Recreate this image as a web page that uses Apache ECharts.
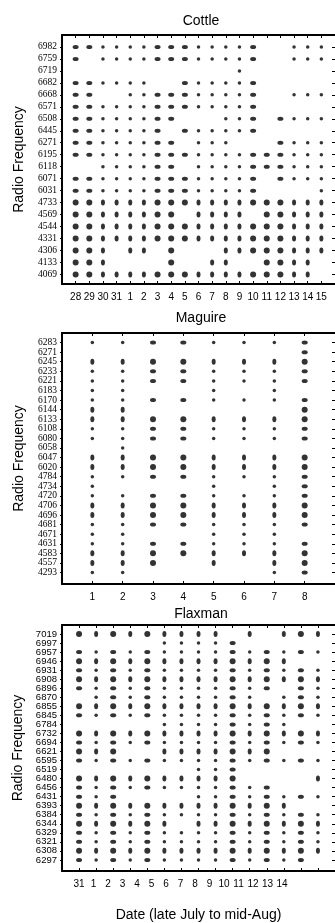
<!DOCTYPE html>
<html>
<head>
<meta charset="utf-8">
<script src="https://cdn.jsdelivr.net/npm/echarts@6/dist/echarts.min.js"></script>
<style>
  html, body { margin: 0; background: #fff; }
  #chart { width: 335px; height: 923px; }
</style>
</head>
<body>
<div id="chart"></div>
<script>
// mark codes: 0 = none, 1 = small dot, 2 = wide, 3 = tall, 4 = big
const cottleFreqs = ["6982","6759","6719","6682","6668","6571","6508","6445","6271","6195","6118",
  "6071","6031","4733","4569","4544","4331","4306","4133","4069"];
const cottleDates = ["28","29","30","31","1","2","3","4","5","6","7","8","9","10","11","12","13","14","15"];
const cottleMarks = [
  [2,2,1,1,1,1,2,2,2,1,1,1,1,2,0,0,1,1,1],
  [2,0,1,1,1,1,2,2,2,1,1,1,1,2,0,0,1,1,1],
  [0,0,0,0,0,0,0,0,0,0,0,0,1,0,0,0,0,0,0],
  [2,2,1,1,1,1,0,0,2,1,1,1,1,2,0,0,0,0,0],
  [2,2,0,0,1,1,2,2,2,1,1,1,1,2,0,0,1,1,1],
  [2,2,1,1,1,1,2,2,2,1,1,1,1,2,0,0,0,0,0],
  [2,2,1,1,1,1,2,2,0,0,0,1,1,2,0,2,1,1,1],
  [2,2,1,1,1,1,2,0,2,1,1,1,1,2,0,0,0,0,0],
  [2,2,1,1,1,1,2,2,0,1,1,1,0,0,0,2,1,1,1],
  [2,2,1,1,1,1,2,2,2,1,1,1,1,2,2,2,1,1,1],
  [0,0,1,1,1,1,2,2,0,1,1,1,1,2,2,2,1,1,1],
  [2,2,1,1,1,1,2,2,2,1,1,1,1,2,0,2,1,1,1],
  [2,2,1,1,1,1,2,2,2,1,1,1,1,2,0,0,0,0,1],
  [4,4,3,3,3,3,4,4,4,3,3,3,3,4,4,4,3,3,3],
  [4,4,3,3,3,3,4,4,0,3,3,3,3,0,4,4,3,3,3],
  [4,4,3,3,3,3,4,4,4,3,3,3,3,4,4,4,3,3,3],
  [4,4,3,3,3,3,4,4,4,3,3,3,3,4,4,4,3,3,3],
  [4,4,3,0,3,3,0,4,0,0,0,3,3,4,4,4,3,3,3],
  [4,4,3,0,0,0,0,4,0,0,3,3,0,0,4,4,3,3,0],
  [4,4,3,3,3,3,4,4,4,3,3,3,3,4,4,4,3,3,0]
];

const maguireFreqs = ["6283","6271","6245","6233","6221","6183","6170","6144","6133","6108","6080",
  "6058","6047","6020","4784","4734","4720","4706","4696","4681","4671","4631","4583","4557","4293"];
const maguireDates = ["1","2","3","4","5","6","7","8"];
const maguireMarks = [
  [1,1,2,2,1,1,1,2],
  [0,0,0,0,0,0,0,2],
  [3,3,4,4,3,3,3,4],
  [1,1,2,2,1,1,1,2],
  [1,1,2,2,1,1,1,2],
  [1,1,0,0,1,0,1,0],
  [1,1,2,2,1,1,1,2],
  [3,3,0,0,0,0,0,4],
  [3,3,4,4,3,3,3,4],
  [1,1,2,2,1,1,1,2],
  [1,1,2,2,1,1,1,2],
  [0,1,0,0,0,0,0,0],
  [3,3,4,4,3,3,3,4],
  [3,3,4,4,3,3,3,4],
  [1,1,2,2,1,1,1,2],
  [1,0,0,0,1,0,1,2],
  [1,1,2,2,1,1,1,2],
  [3,3,4,4,3,3,3,4],
  [3,3,4,4,3,3,3,4],
  [1,1,2,2,1,1,1,2],
  [1,1,0,0,1,1,1,0],
  [1,1,2,2,1,1,1,2],
  [3,3,4,4,3,3,3,4],
  [3,3,4,0,3,0,3,4],
  [1,1,0,0,0,0,1,2]
];

const flaxmanFreqs = ["7019","6997","6957","6946","6931","6908","6896","6870","6855","6845","6784",
  "6732","6694","6621","6595","6519","6480","6456","6431","6393","6384","6344","6329","6321","6308","6297"];
const flaxmanDates = ["31","1","2","3","4","5","6","7","8","9","10","11","12","13","14"];
const flaxmanMarks = [
  [4,3,4,3,4,3,3,3,3,0,3,0,3,4,3],
  [0,0,0,0,0,1,1,1,1,2,0,0,0,0,0],
  [2,1,2,1,2,1,1,1,1,2,1,2,1,2,1],
  [4,3,4,3,4,3,3,3,3,4,3,4,3,0,0],
  [2,1,2,1,2,1,1,1,1,2,1,2,1,2,1],
  [4,3,4,3,4,3,3,3,3,4,3,4,3,4,3],
  [2,1,2,1,2,1,1,1,1,2,1,2,0,2,1],
  [0,1,2,1,2,1,1,1,1,2,1,0,1,2,1],
  [4,3,4,3,4,3,3,3,3,4,3,4,3,4,3],
  [2,1,2,1,2,1,1,1,1,2,1,2,1,2,1],
  [0,0,0,0,0,1,1,1,1,2,1,2,1,0,0],
  [4,3,4,3,4,3,3,3,3,4,3,4,3,4,3],
  [2,1,2,1,2,1,1,1,1,2,1,2,1,2,1],
  [4,3,4,0,0,3,3,3,3,4,3,4,0,0,0],
  [2,1,2,1,2,1,1,1,1,2,1,2,1,2,1],
  [0,0,0,0,0,0,0,1,1,2,0,0,0,0,0],
  [4,3,4,3,4,3,3,3,3,4,0,0,0,0,3],
  [2,1,2,1,2,1,1,1,1,2,1,2,0,0,0],
  [2,1,2,0,0,0,0,1,1,2,1,2,1,2,1],
  [4,3,4,3,4,3,3,3,3,4,3,4,3,0,0],
  [2,1,2,1,2,1,1,1,1,2,1,2,1,2,1],
  [4,3,4,3,4,3,0,3,3,4,3,4,3,4,3],
  [2,1,2,1,2,1,1,1,1,2,1,2,1,2,1],
  [2,1,2,1,2,1,1,1,1,2,1,2,1,2,1],
  [4,3,4,3,4,3,3,3,3,4,3,4,3,4,3],
  [2,1,2,1,2,1,1,1,1,2,1,2,1,2,0]
];

const markSizes = { 1: [3.5, 3.5], 2: [6, 4], 3: [4, 6], 4: [6, 6] };
const ellipse = "path://M0,5a5,5 0 1,0 10,0a5,5 0 1,0 -10,0z";
const SANS = "Liberation Sans";
const SERIF = "Liberation Serif";

const panels = [
  { title: "Cottle", freqs: cottleFreqs, dates: cottleDates, marks: cottleMarks,
    top: 35, height: 249, padBottom: 0.8, titleY: 9, labelFont: SERIF },
  { title: "Maguire", freqs: maguireFreqs, dates: maguireDates, marks: maguireMarks,
    top: 333, height: 251, padBottom: 1.2, titleY: 306, labelFont: SERIF },
  { title: "Flaxman", freqs: flaxmanFreqs, dates: flaxmanDates, marks: flaxmanMarks,
    top: 625, height: 251, padBottom: 1.23, titleY: 602, labelFont: SANS, shiftedLabels: true }
];

const range = n => Array.from({ length: n }, (_, i) => i);

const grids = [], xAxes = [], yAxes = [], series = [], titles = [];

panels.forEach((p, k) => {
  grids.push({ left: 62, right: 0, top: p.top, height: p.height });
  const cols = range(p.dates.length);
  const rows = range(p.freqs.length);
  const xBase = {
    gridIndex: k, type: "value", min: -1, max: p.dates.length,
    splitLine: { show: false }
  };
  const yBase = {
    gridIndex: k, type: "value", inverse: true, min: -1, max: p.freqs.length - 1 + p.padBottom,
    splitLine: { show: false }
  };
  const bottomIdx = xAxes.length;
  xAxes.push(Object.assign({}, xBase, {
    position: "bottom",
    axisLine: { onZero: false, lineStyle: { color: "#000", width: 2 } },
    axisTick: { inside: true, length: 3, customValues: cols, lineStyle: { color: "#000" } },
    axisLabel: {
      show: !p.shiftedLabels, customValues: cols, margin: 8,
      showMinLabel: true, showMaxLabel: true, hideOverlap: false,
      fontFamily: SANS, fontSize: 10, color: "#000",
      formatter: v => p.dates[v] || ""
    }
  }));
  xAxes.push(Object.assign({}, xBase, {
    position: "top",
    axisLine: { onZero: false, lineStyle: { color: "#000", width: 2 } },
    axisTick: { inside: true, length: 3, customValues: cols, lineStyle: { color: "#000" } },
    axisLabel: { show: false }
  }));
  if (p.shiftedLabels) {
    // the date labels of this panel are printed on a tighter pitch than the columns
    xAxes.push({
      gridIndex: k, type: "value", position: "bottom", min: -1.172, max: 17.655,
      splitLine: { show: false }, axisLine: { show: false, onZero: false }, axisTick: { show: false },
      axisLabel: {
        customValues: cols, margin: 8, fontFamily: SANS, fontSize: 10, color: "#000",
        showMinLabel: true, showMaxLabel: true, hideOverlap: false,
        formatter: v => p.dates[v] || ""
      },
      name: "Date (late July to mid-Aug)", nameLocation: "middle", nameGap: 37,
      nameTextStyle: { fontFamily: SANS, fontSize: 14, color: "#000" }
    });
  }
  // row labels sit closer than their text height, so even and odd rows go on two
  // stacked axes to keep echarts from dropping the crowded ones
  const labelStyle = parity => ({
    customValues: rows.filter(r => r % 2 === parity), margin: 5,
    showMinLabel: true, showMaxLabel: true, hideOverlap: false,
    fontFamily: p.labelFont, fontSize: 9.5, color: "#000",
    formatter: v => p.freqs[v] || ""
  });
  const leftIdx = yAxes.length;
  yAxes.push(Object.assign({}, yBase, {
    position: "left",
    name: "Radio Frequency", nameLocation: "middle", nameGap: 36, nameRotate: 90,
    nameTextStyle: { fontFamily: SANS, fontSize: 14, color: "#000" },
    axisLine: { onZero: false, lineStyle: { color: "#000", width: 2 } },
    axisTick: { inside: false, length: 2, customValues: rows, lineStyle: { color: "#000" } },
    axisLabel: labelStyle(0)
  }));
  yAxes.push(Object.assign({}, yBase, {
    position: "left",
    axisLine: { show: false, onZero: false },
    axisTick: { show: false },
    axisLabel: labelStyle(1)
  }));
  yAxes.push(Object.assign({}, yBase, {
    position: "right",
    axisLine: { show: false, onZero: false },
    axisTick: { show: true, inside: true, length: 3, customValues: rows, lineStyle: { color: "#000" } },
    axisLabel: { show: false }
  }));

  const data = [];
  p.marks.forEach((row, r) => {
    row.forEach((m, c) => { if (m) data.push([c, r, m]); });
  });
  series.push({
    type: "scatter", xAxisIndex: bottomIdx, yAxisIndex: leftIdx,
    symbol: ellipse, symbolSize: v => markSizes[v[2]],
    itemStyle: { color: "#000" }, silent: true, data
  });

  titles.push({
    text: p.title, left: 196, top: p.titleY, textAlign: "center",
    textStyle: { fontFamily: SANS, fontSize: 14, fontWeight: "normal", color: "#000" }
  });
});

const chart = echarts.init(document.getElementById("chart"));
chart.setOption({
  animation: false,
  backgroundColor: "#fff",
  title: titles,
  grid: grids,
  xAxis: xAxes,
  yAxis: yAxes,
  series
});
</script>
</body>
</html>
